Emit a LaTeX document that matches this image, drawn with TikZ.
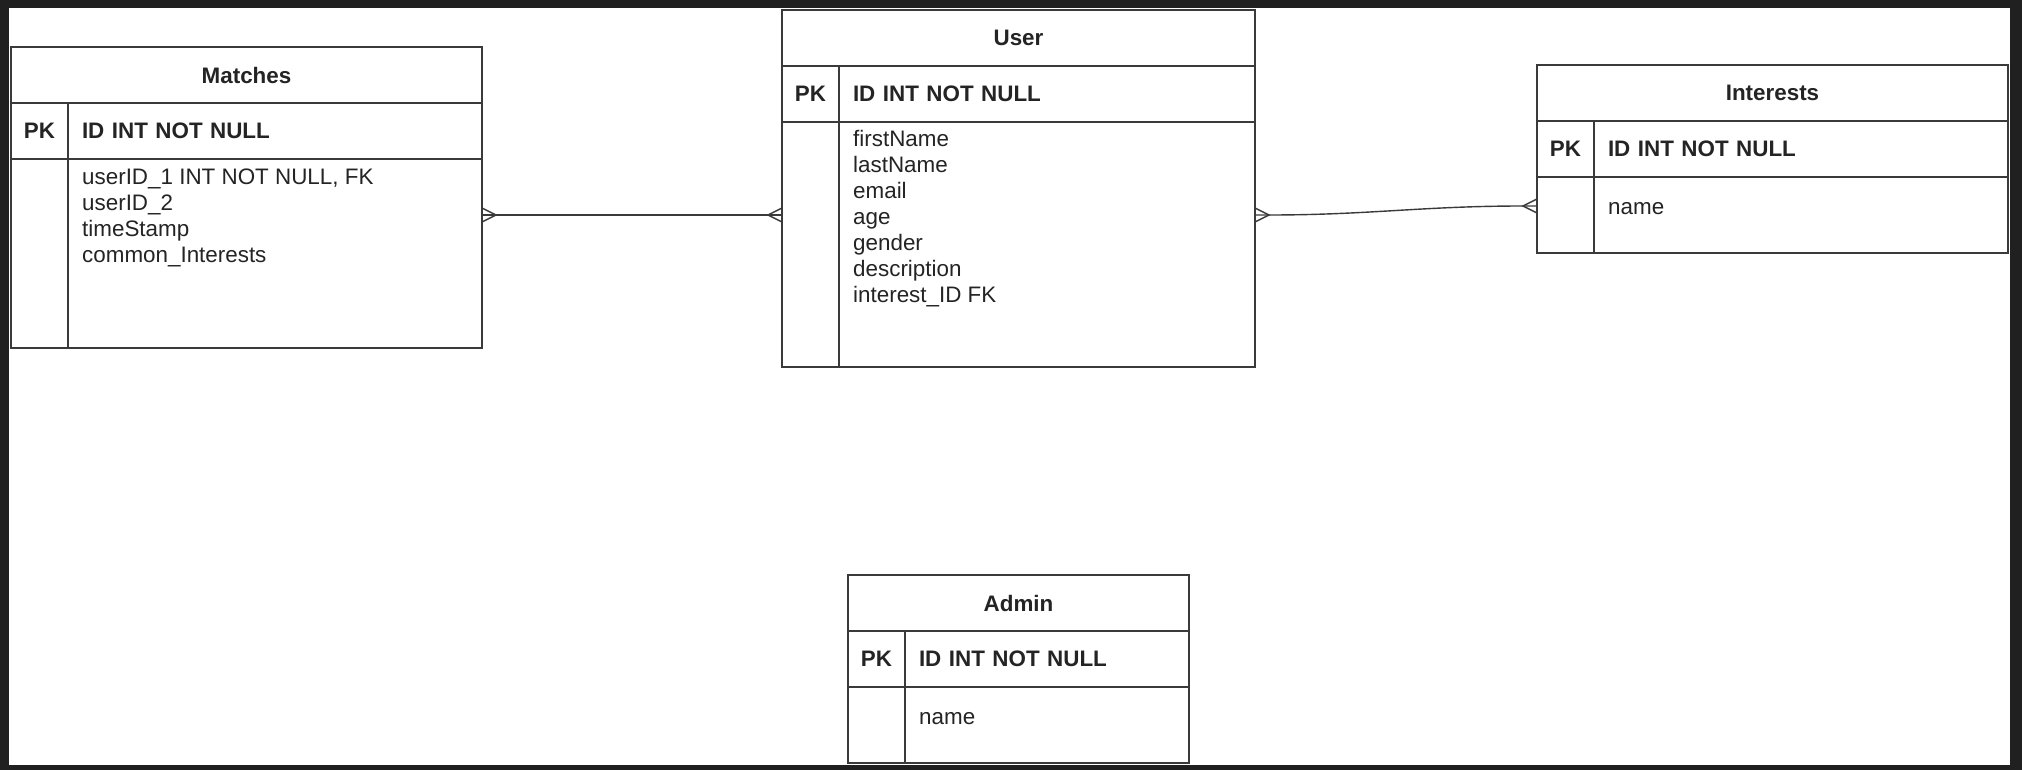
\documentclass[tikz,border=0pt]{standalone}
\usepackage{fontspec}
\setmainfont{Liberation Sans}
\usepackage{tikz}
\usetikzlibrary{positioning,calc}
\definecolor{bgdark}{HTML}{202020}
\definecolor{edge}{HTML}{3A3A3A}
\definecolor{txt}{HTML}{242424}
\begin{document}
\begin{tikzpicture}
[x=1pt,y=-1pt,
box/.style={draw=edge,line width=1.4pt,inner sep=0pt,outer sep=0pt,anchor=north west,text=txt,font=\fontsize{22.4}{26}\selectfont},
ttl/.style={box,font=\fontsize{22.4}{26}\selectfont\bfseries,minimum height=56pt},
pk/.style={ttl,minimum width=57pt},
key/.style={ttl,inner xsep=14pt,align=left},
col/.style={box,minimum width=57pt},
attr/.style={inner sep=0pt,anchor=north west,align=left,text=txt,font=\fontsize{22.4}{26}\selectfont},
link/.style={draw=edge,line width=1.4pt,line join=miter}]
\path[use as bounding box] (0,0) rectangle (2022,770);
\fill[bgdark] (0,0) rectangle (2022,770);
\fill[white] (9,8) rectangle (2010,765);

\node[ttl,minimum width=471pt] (mt) at (11,47) {Matches};
\node[pk] (mpk) at (mt.south west) {PK};
\node[key,text width=386pt] (mkey) at (mpk.north east) {ID INT NOT NULL};
\node[col,minimum height=189pt] (mcol) at (mpk.south west) {};
\node[box,minimum width=414pt,minimum height=189pt] (mattr) at (mcol.north east) {};
\node[attr] at ([xshift=14pt,yshift=-10pt]mattr.north west) {userID\_1 INT NOT NULL, FK\\userID\_2\\timeStamp\\common\_Interests};

\node[ttl,minimum width=473pt] (ut) at (782,10) {User};
\node[pk] (upk) at (ut.south west) {PK};
\node[key,text width=388pt] (ukey) at (upk.north east) {ID INT NOT NULL};
\node[col,minimum height=245pt] (ucol) at (upk.south west) {};
\node[box,minimum width=416pt,minimum height=245pt] (uattr) at (ucol.north east) {};
\node[attr] at ([xshift=14pt,yshift=-8pt]uattr.north west) {firstName\\lastName\\email\\age\\gender\\description\\interest\_ID FK};

\node[ttl,minimum width=471pt] (it) at (1537,65) {Interests};
\node[pk] (ipk) at (it.south west) {PK};
\node[key,text width=386pt] (ikey) at (ipk.north east) {ID INT NOT NULL};
\node[col,minimum height=76pt] (icol) at (ipk.south west) {};
\node[box,minimum width=414pt,minimum height=76pt] (iattr) at (icol.north east) {};
\node[attr,anchor=base west] at ([xshift=14pt,yshift=-38pt]iattr.north west) {name};

\node[ttl,minimum width=341pt] (at) at (848,575) {Admin};
\node[pk] (apk) at (at.south west) {PK};
\node[key,text width=256pt] (akey) at (apk.north east) {ID INT NOT NULL};
\node[col,minimum height=76pt] (acol) at (apk.south west) {};
\node[box,minimum width=284pt,minimum height=76pt] (aattr) at (acol.north east) {};
\node[attr,anchor=base west] at ([xshift=14pt,yshift=-37pt]aattr.north west) {name};

\coordinate (mu) at (0,215);
\coordinate (iu) at (0,206);
\draw[link] (mattr.east |- mu) -- (ucol.west |- mu);
\draw[link] (mattr.east |- mu) ++(0,-7) -- ++(14,7) -- ++(-14,7);
\draw[link] (ucol.west |- mu) ++(0,-7) -- ++(-14,7) -- ++(14,7);
\draw[link] (uattr.east |- mu) -- ++(14,0) .. controls +(100,0) and +(-100,0) .. ($(icol.west |- iu)+(-14,0)$) -- (icol.west |- iu);
\draw[link] (uattr.east |- mu) ++(0,-7) -- ++(14,7) -- ++(-14,7);
\draw[link] (icol.west |- iu) ++(0,-7) -- ++(-14,7) -- ++(14,7);
\end{tikzpicture}
\end{document}
